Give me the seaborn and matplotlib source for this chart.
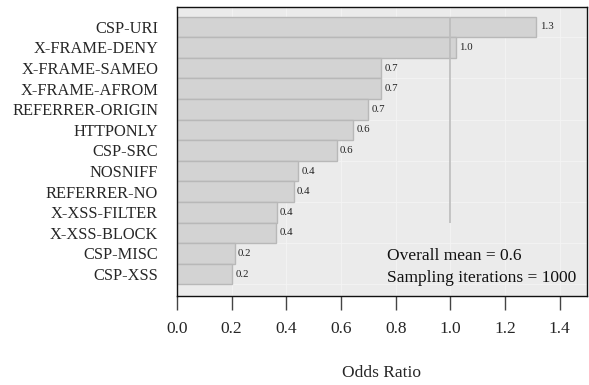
import matplotlib
matplotlib.use("Agg")
import matplotlib.pyplot as plt
import seaborn as sns
import pandas as pd
import numpy as np

categories = ["CSP-URI", "X-FRAME-DENY", "X-FRAME-SAMEO", "X-FRAME-AFROM",
              "REFERRER-ORIGIN", "HTTPONLY", "CSP-SRC", "NOSNIFF", "REFERRER-NO",
              "X-XSS-FILTER", "X-XSS-BLOCK", "CSP-MISC", "CSP-XSS"]
odds_ratio = [1.315, 1.019, 0.747, 0.746, 0.699, 0.644, 0.584, 0.444, 0.427,
              0.365, 0.364, 0.211, 0.202]
x_ticks = [0.0, 0.2, 0.4, 0.6, 0.8, 1.0, 1.2, 1.4]
overall_mean = 0.6
iterations = 1000
ref_line = 1.0

sns.set_theme(style="darkgrid")
plt.rcParams['font.family'] = ['Liberation Serif', 'DejaVu Serif']

df = pd.DataFrame({"cat": categories, "val": odds_ratio})

fig = plt.figure(figsize=(5.89, 3.85), dpi=100)
ax = fig.add_axes([0.3005, 0.231, 0.6961, 0.751])
ax.set_facecolor("#ebebeb")

sns.barplot(data=df, x="val", y="cat", orient="h", color="#d3d3d3",
            saturation=1, width=1.0, edgecolor="#b8b8b8", linewidth=1.0, ax=ax,
            zorder=2)

for i, v in enumerate(odds_ratio):
    ax.text(v + 0.012, i, f"{v:.1f}", va="center", ha="left", fontsize=7.8,
            color="#222222", zorder=4)

ax.vlines(ref_line, -0.5, 9.5, color="#bcbcbc", linewidth=1.2, zorder=3)

ax.set_xlim(0, 1.5)
ax.set_ylim(13.07, -0.97)
ax.set_xticks(x_ticks)
ax.set_xticklabels([f"{t:.1f}" for t in x_ticks], fontsize=12.5)
ax.set_yticks(range(len(categories)))
ax.set_yticklabels(categories, fontsize=11.8)
ax.set_yticks(np.arange(0.5, 13, 2), minor=True)
ax.grid(False, axis="y", which="major")
ax.grid(True, axis="y", which="minor", color="#f4f4f4", linewidth=0.6, zorder=0)
ax.grid(True, axis="x", which="major", color="#f4f4f4", linewidth=0.6, zorder=0)
ax.set_axisbelow(True)
ax.tick_params(axis="y", which="both", length=0, pad=13.5)
ax.tick_params(axis="x", which="major", length=10, width=1, color="#444444",
               direction="out", pad=8, bottom=True)
ax.set_xlabel("Odds Ratio", fontsize=12.5, labelpad=20)
ax.set_ylabel("")

for s in ax.spines.values():
    s.set_visible(True)
    s.set_color("#111111")
    s.set_linewidth(1.0)

ax.text(0.512, 0.14, f"Overall mean = {overall_mean}", transform=ax.transAxes,
        fontsize=12.5, ha="left", va="center", color="#111111")
ax.text(0.512, 0.064, f"Sampling iterations = {iterations}", transform=ax.transAxes,
        fontsize=12.5, ha="left", va="center", color="#111111")

fig.savefig("out.png", dpi=100)
